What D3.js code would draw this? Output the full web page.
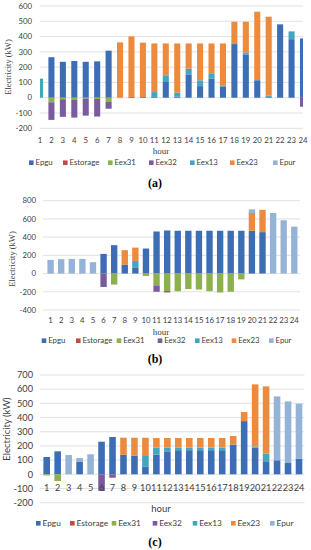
<!DOCTYPE html>
<html><head><meta charset="utf-8">
<script src="https://cdn.jsdelivr.net/npm/d3@7"></script>
<style>body{margin:0;background:#fff} svg{display:block}</style>
</head><body>
<svg id="c" width="311" height="550"></svg>
<script>
// ---------- data ----------
const hours = ["1","2","3","4","5","6","7","8","9","10","11","12","13","14","15","16","17","18","19","20","21","22","23","24"];
const seriesNames = ["Epgu","Estorage","Eex31","Eex32","Eex13","Eex23","Epur"];
const seriesColors = ["#3d6db3","#be4b48","#8db04e","#7a5b9e","#44a5bf","#ec8a3e","#95b3d7"];

// panel (a)
const aEpgu     = [0,265,235,240,235,238,308,0,5,5,5,103,8,153,76,125,74,351,283,114,5,480,383,388];
const aEstorage = [0,0,0,0,0,0,0,0,0,0,0,0,0,0,0,0,0,0,0,0,0,0,0,0];
const aEex31    = [0,-30,-10,-15,-5,-8,-25,0,0,0,0,0,0,0,0,0,0,0,0,0,0,0,0,0];
const aEex32    = [0,-115,-115,-115,-112,-115,-47,0,0,0,0,0,0,0,0,0,0,0,0,0,0,0,0,-59];
const aEex13    = [125,0,0,0,0,0,0,0,0,0,32,44,25,37,38,35,4,0,13,2,10,0,51,0];
const aEex23    = [0,0,0,0,0,0,0,362,396,355,318,208,322,165,241,195,277,146,201,447,515,0,0,0];
const aEpur     = [0,0,0,0,0,0,0,0,0,0,0,0,0,0,0,0,0,0,0,0,0,0,0,0];
const aTicks    = [-200,-100,0,100,200,300,400,500,600];

// panel (b)
const bEpgu     = [0,0,0,0,0,216,312,99,62,275,462,473,470,470,470,470,470,470,470,470,455,0,0,0];
const bEstorage = [0,0,0,0,0,0,0,0,0,0,0,0,0,0,0,0,0,0,0,0,0,0,0,0];
const bEex31    = [0,0,0,0,0,0,-121,0,0,-26,-130,-192,-195,-170,-175,-194,-207,-200,-64,0,0,0,0,0];
const bEex32    = [0,0,0,0,0,-147,0,0,0,0,-70,-15,0,0,0,0,0,0,0,0,0,0,0,0];
const bEex13    = [0,0,0,0,0,0,0,0,77,0,0,0,0,0,0,0,0,0,0,0,0,0,0,0];
const bEex23    = [0,0,0,0,0,0,0,158,146,0,0,0,0,0,0,0,0,0,0,195,245,0,0,0];
const bEpur     = [150,158,161,161,125,0,0,0,0,0,0,0,0,0,0,0,0,0,0,40,0,665,585,515];
const bTicks    = [-400,-200,0,200,400,600,800];

// panel (c)
const cEpgu     = [122,162,0,87,0,230,263,138,132,56,139,162,170,170,170,170,170,209,375,188,92,99,80,110];
const cEstorage = [0,0,0,0,0,0,0,0,0,0,0,0,0,0,0,0,0,0,0,0,0,0,0,0];
const cEex31    = [-8,-47,0,0,0,0,0,0,0,0,0,0,0,0,0,0,0,0,0,0,0,0,0,0];
const cEex32    = [0,0,0,0,0,-117,-24,0,0,0,0,0,0,0,0,0,0,0,0,0,0,0,0,0];
const cEex13    = [0,0,0,0,0,0,0,0,0,73,49,26,18,18,18,18,18,0,0,9,54,0,0,0];
const cEex23    = [0,0,0,0,0,0,0,120,126,129,68,68,68,68,68,68,68,61,64,437,474,0,0,0];
const cEpur     = [0,0,136,28,141,0,0,0,0,0,0,0,0,0,0,0,0,0,0,0,0,450,434,388];
const cTicks    = [-200,-100,0,100,200,300,400,500,600,700];

const xLabel = "hour";
const yLabel = "Electricity (kW)";

// ---------- layout (not data) ----------
const panels = [
  { title:"(a)", series:[aEpgu,aEstorage,aEex31,aEex32,aEex13,aEex23,aEpur], ticks:aTicks,
    L:{ y0:128.3, y1:6, c1:40, c24:303, clip:[40,303], grid:[40,303], barFrac:0.53,
        yTickX:32, tickFs:7.8, xTickY:140, hourY:150.5, hourFont:"Liberation Serif", hourFs:9,
        legY:162.7, legXs:[29,63,108,149,190,230,273], legFs:7.8,
        titleY:182.5, ylX:8, ylY:67, ylFont:"Liberation Serif", ylFs:8.5 } },
  { title:"(b)", series:[bEpgu,bEstorage,bEex31,bEex32,bEex13,bEex23,bEpur], ticks:bTicks,
    L:{ y0:310, y1:200.7, c1:50.6, c24:294.3, clip:null, grid:[43,300], barFrac:0.6,
        yTickX:36, tickFs:7.8, xTickY:320.5, hourY:331.5, hourFont:"Liberation Serif", hourFs:9,
        legY:340.7, legXs:[41.7,76,116.7,157.7,195,231.7,269], legFs:7.8,
        titleY:358.5, ylX:12, ylY:259, ylFont:"Liberation Serif", ylFs:8.5 } },
  { title:"(c)", series:[cEpgu,cEstorage,cEex31,cEex32,cEex13,cEex23,cEpur], ticks:cTicks,
    L:{ y0:502.7, y1:375, c1:46.7, c24:299, clip:null, grid:[40,304.5], barFrac:0.6,
        yTickX:33, tickFs:9.2, xTickY:488, hourY:508.5, hourFont:"Lato", hourFs:9.5,
        legY:523.3, legXs:[36,70,111.7,152.7,192.7,231,270], legFs:8.3,
        titleY:542, ylX:7, ylY:429, ylFont:"Lato", ylFs:9.5 } }
];

const svg = d3.select("#c");
const tickFont = "Lato";

panels.forEach((p, pi) => {
  const L = p.L;
  const step = (L.c24 - L.c1) / (hours.length - 1);
  const x = d3.scaleBand().domain(hours)
      .range([L.c1 - step/2, L.c24 + step/2]).paddingInner(1 - L.barFrac).paddingOuter((1 - L.barFrac)/2);
  const y = d3.scaleLinear().domain([p.ticks[0], p.ticks[p.ticks.length-1]]).range([L.y0, L.y1]);
  const g = svg.append("g");

  // gridlines
  g.append("g").selectAll("line").data(p.ticks).join("line")
    .attr("x1", L.grid[0]).attr("x2", L.grid[1])
    .attr("y1", d => y(d)).attr("y2", d => y(d))
    .attr("stroke", "#d9d9d9").attr("stroke-width", 0.8);

  // y tick labels
  g.append("g").selectAll("text").data(p.ticks).join("text")
    .attr("x", L.yTickX).attr("y", d => y(d)).attr("dy", "0.35em")
    .attr("text-anchor", "end").attr("font-family", tickFont).attr("font-size", L.tickFs)
    .attr("fill", "#404040").text(d => d);

  // stacked bars
  const rows = hours.map((h, i) => {
    const r = { hour: h };
    seriesNames.forEach((s, si) => r[s] = p.series[si][i]);
    return r;
  });
  const stack = d3.stack().keys(seriesNames).offset(d3.stackOffsetDiverging)(rows);
  let barsG = g.append("g");
  if (L.clip) {
    const id = "clip" + pi;
    svg.append("clipPath").attr("id", id).append("rect")
      .attr("x", L.clip[0]).attr("y", 0).attr("width", L.clip[1] - L.clip[0]).attr("height", 550);
    barsG.attr("clip-path", `url(#${id})`);
  }
  stack.forEach((layer, si) => {
    barsG.append("g").attr("fill", seriesColors[si]).selectAll("rect")
      .data(layer.filter(d => d[1] !== d[0])).join("rect")
      .attr("x", d => x(d.data.hour)).attr("width", x.bandwidth())
      .attr("y", d => y(Math.max(d[0], d[1])))
      .attr("height", d => Math.abs(y(d[0]) - y(d[1])));
  });

  // x tick labels
  g.append("g").selectAll("text").data(hours).join("text")
    .attr("x", d => x(d) + x.bandwidth()/2).attr("y", L.xTickY).attr("dy", "0.35em")
    .attr("text-anchor", "middle").attr("font-family", tickFont).attr("font-size", L.tickFs)
    .attr("fill", "#404040").text(d => d);

  // axis titles
  g.append("text").attr("x", 161).attr("y", L.hourY).attr("dy", "0.35em")
    .attr("text-anchor", "middle").attr("font-family", L.hourFont).attr("font-size", L.hourFs)
    .attr("fill", "#404040").text(xLabel);
  g.append("text").attr("transform", `translate(${L.ylX},${L.ylY}) rotate(-90)`)
    .attr("dy", "0.35em").attr("text-anchor", "middle")
    .attr("font-family", L.ylFont).attr("font-size", L.ylFs).attr("fill", "#404040").text(yLabel);

  // legend
  const lg = g.append("g");
  seriesNames.forEach((s, si) => {
    lg.append("rect").attr("x", L.legXs[si]).attr("y", L.legY - 2.3).attr("width", 4.6).attr("height", 4.6)
      .attr("fill", seriesColors[si]);
    lg.append("text").attr("x", L.legXs[si] + 6.5).attr("y", L.legY).attr("dy", "0.35em")
      .attr("font-family", tickFont).attr("font-size", L.legFs).attr("fill", "#404040").text(s);
  });

  // panel title
  g.append("text").attr("x", 155).attr("y", L.titleY).attr("dy", "0.35em")
    .attr("text-anchor", "middle").attr("font-family", "Liberation Serif").attr("font-weight", "bold")
    .attr("font-size", 12).attr("fill", "#000").text(p.title);
});
</script>
</body></html>
